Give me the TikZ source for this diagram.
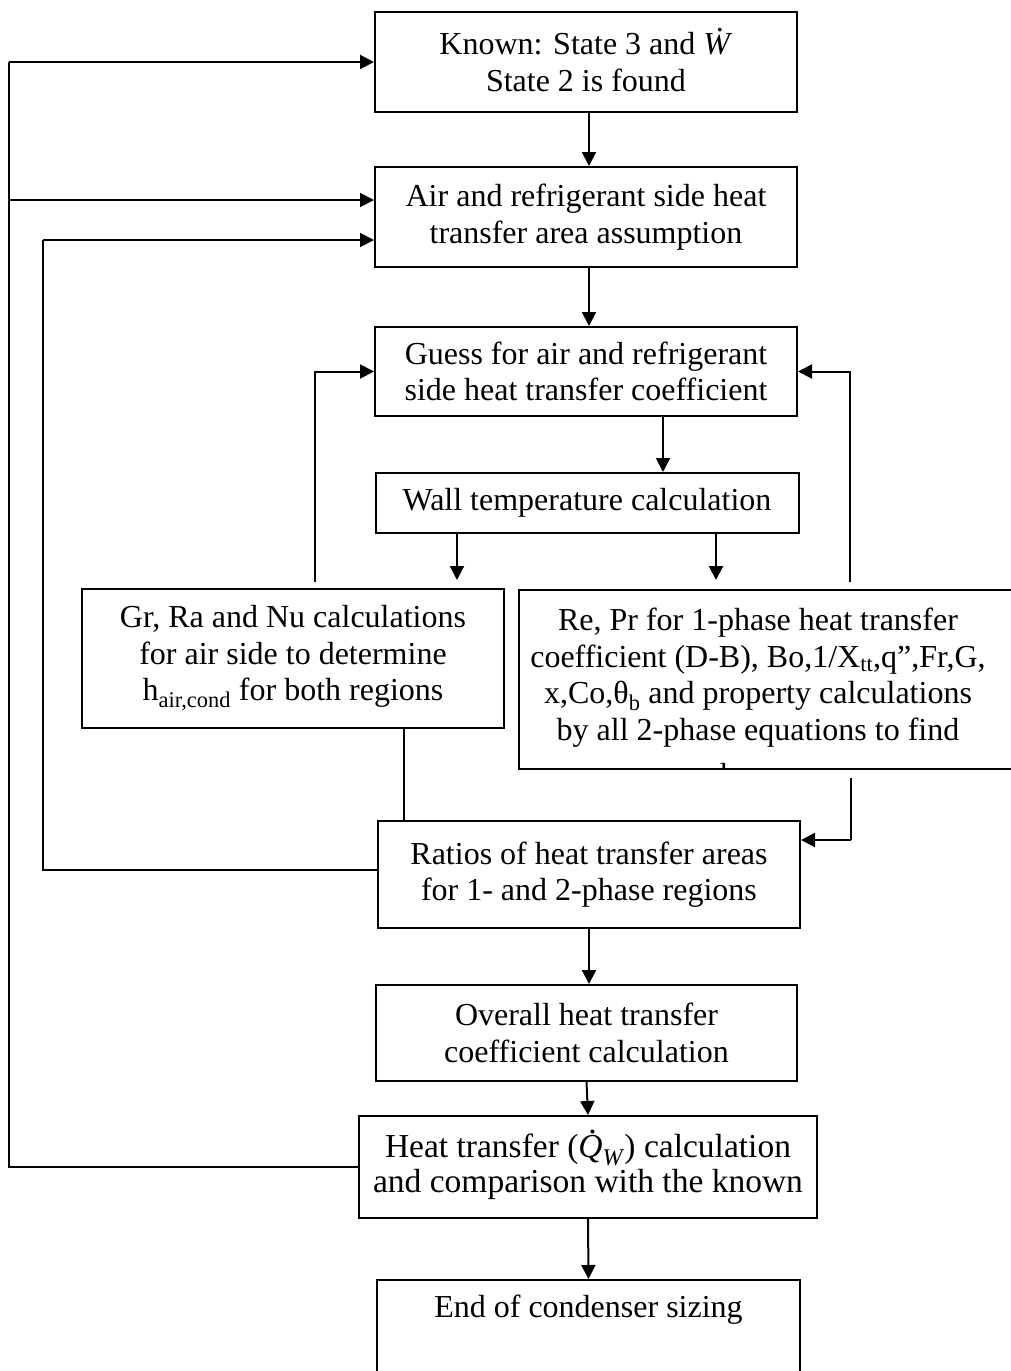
\documentclass[tikz,border=0pt]{standalone}
\usepackage{fontspec}
\setmainfont{Liberation Serif}
\usetikzlibrary{arrows.meta,calc}
\newcommand\dotit[1]{\ooalign{\textit{#1}\cr\hidewidth\hspace{0.12em}\raisebox{0.72em}{.}\hidewidth\cr}}
\begin{document}
\begin{tikzpicture}[x=1pt,y=-1pt,
  boxb/.style={draw,line width=2pt,align=center,inner sep=0pt,font=\fontsize{32}{36.5}\selectfont},
  txt/.style={align=center,inner sep=0pt,font=\fontsize{32}{36.5}\selectfont},
  arr/.style={line width=2pt,-{Triangle[length=14pt,width=14pt]}},
  linea/.style={line width=1.3pt},
  lineo/.style={line width=2pt}]
\useasboundingbox (0,0) rectangle (1011,1371);
% boxes
\node[boxb,minimum width=422pt,minimum height=100pt] (known) at (586,62) {Known: State 3 and \dotit{W}\\State 2 is found};
\node[boxb,minimum width=422pt,minimum height=100pt] (area) at (586,217) {Air and refrigerant side heat\\transfer area assumption};
\node[boxb,minimum width=422pt,minimum height=89pt] (guess) at (586,371.5) {Guess for air and refrigerant\\side heat transfer coefficient};
\node[boxb,minimum width=423pt,minimum height=60pt] (wall) at (587,503) {Wall temperature calculation};
\node[boxb,minimum width=422pt,minimum height=139pt] (gr) at (293,658.5) {Gr, Ra and Nu calculations\\for air side to determine\\h\textsubscript{air,cond} for both regions};
\node[draw,line width=2pt,inner sep=0pt,minimum width=501pt,minimum height=179pt] (re) at (769.5,679.5) {};
\node[txt] (retext) at (758,677.5) {Re, Pr for 1-phase heat transfer\\coefficient (D-B), Bo,1/X\textsubscript{tt},q”,Fr,G,\\x,Co,θ\textsubscript{b} and property calculations\\by all 2-phase equations to find};
\begin{scope}
\clip (521,755) rectangle (1011,767);
\node[txt,anchor=base] (refrag) at (728,785) {h};
\end{scope}
\node[boxb,minimum width=422pt,minimum height=107pt] (ratios) at (589,874.5) {Ratios of heat transfer areas\\for 1- and 2-phase regions};
\node[boxb,minimum width=421pt,minimum height=96pt] (overall) at (586.5,1033) {Overall heat transfer\\coefficient calculation};
\node[boxb,minimum width=458pt,minimum height=102pt,font=\fontsize{33.5}{35}\selectfont] (heat) at (588,1167) {Heat transfer (\dotit{Q}\raisebox{-0.22em}{\fontsize{24}{24}\selectfont\textit{W}}) calculation\\and comparison with the known};
\node[draw,line width=2pt,inner sep=0pt,minimum width=423pt,minimum height=110pt,anchor=north] (endb) at (588.5,1279) {};
\node[txt] (endtext) at (588.5,1310) {End of condenser sizing};
% helper coordinates
\coordinate (xa) at (589,0);
\coordinate (xb) at (663,0);
\coordinate (xl) at (457,0);
\coordinate (xr) at (716,0);
\coordinate (xg) at (404,0);
\coordinate (xre) at (851,0);
\coordinate (xrt) at (850,0);
\coordinate (xs) at (315,0);
\coordinate (xo) at (9,0);
\coordinate (xi) at (43,0);
\coordinate (y200) at (0,200);
\coordinate (y240) at (0,240);
\coordinate (y840) at (0,840);
\coordinate (y870) at (0,870);
% main flow
\draw[arr] (known.south -| xa) -- (area.north -| xa);
\draw[arr] (area.south -| xa) -- (guess.north -| xa);
\draw[arr] (guess.south -| xb) -- (wall.north -| xb);
\draw[arr] (wall.south -| xl) -- ($(gr.north -| xl)+(0,-8)$);
\draw[arr] (wall.south -| xr) -- ($(re.north -| xr)+(0,-9)$);
\draw[arr] (ratios.south -| xa) -- (overall.north -| xa);
\draw[arr] (overall.south) -- (heat.north);
\draw[arr] (heat.south) -- (endb.north);
% loops
\draw[arr] ($(gr.north -| xs)+(0,-6)$) |- (guess.west);
\draw[arr] ($(re.north -| xrt)+(0,-7)$) |- (guess.east);
\draw[linea] (gr.south -| xg) -- (ratios.north -| xg);
\draw[linea] ($(re.south -| xre)+(0,8)$) -- (xre |- y840);
\draw[arr] (xre |- y840) -- (ratios.east |- y840);
\draw[lineo] (ratios.west |- y870) -| (xi |- y240);
\draw[arr] (xi |- y240) -- (area.west |- y240);
\draw[lineo] (heat.west) -| (xo |- known.west);
\draw[arr] (xo |- known.west) -- (known.west);
\draw[arr] (xo |- y200) -- (area.west |- y200);
\end{tikzpicture}
\end{document}
